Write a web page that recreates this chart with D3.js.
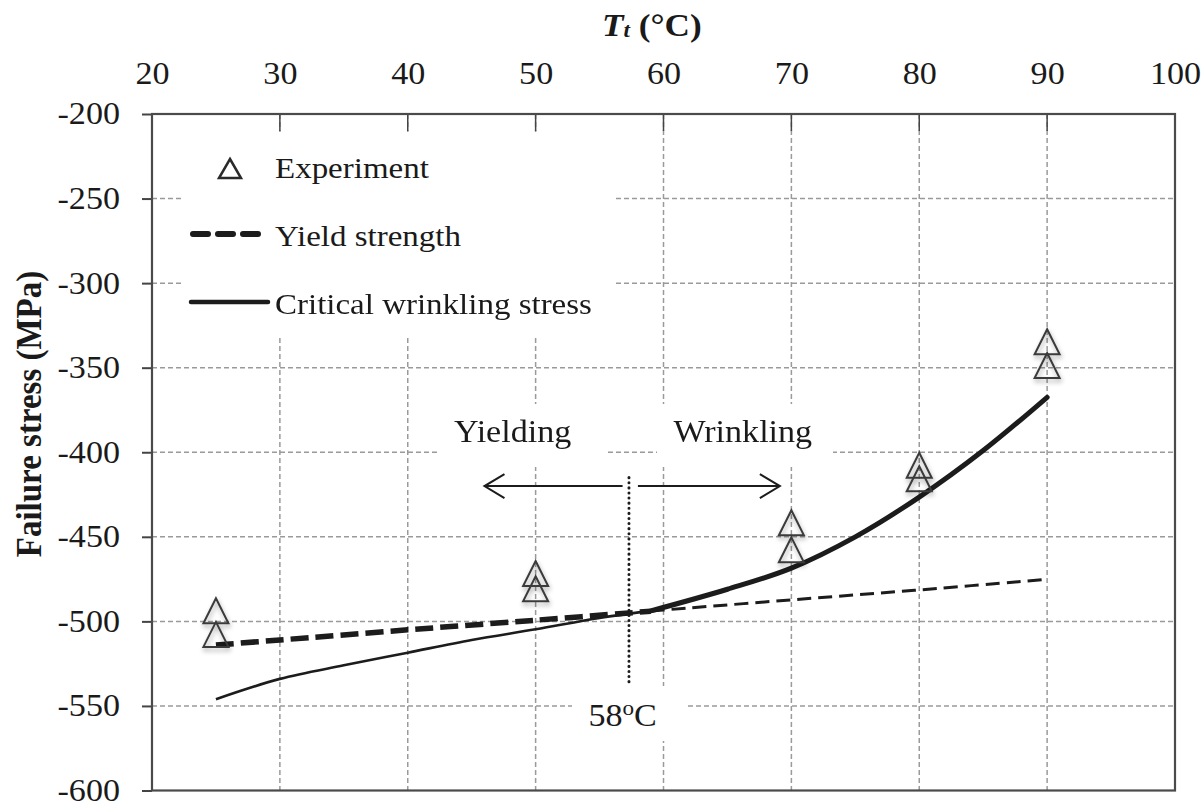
<!DOCTYPE html>
<html>
<head>
<meta charset="utf-8">
<script src="https://cdn.jsdelivr.net/npm/d3@7"></script>
<style>
  html, body { margin: 0; padding: 0; background: #fff; }
  svg { display: block; font-family: "Liberation Serif", "Times New Roman", serif; }
</style>
</head>
<body>
<svg id="chart" width="1203" height="801"></svg>
<script>
// ---------------- data ----------------
const tempTicks = [20, 30, 40, 50, 60, 70, 80, 90, 100];
const stressTicks = [-200, -250, -300, -350, -400, -450, -500, -550, -600];

const expTemp   = [25, 25, 50, 50, 70, 70, 80, 80, 90, 90];
const expStress = [-494, -508, -472, -481, -442, -458, -408, -416, -335, -349];

const yieldTemp   = [25, 30, 40, 50, 59, 60, 70, 80, 90];
const yieldStress = [-514, -511, -505, -499.3, -494, -493.3, -487.3, -481.4, -475.1];

const wrinkTemp   = [25, 30, 35, 40, 45, 50, 55, 59, 65, 70, 75, 80, 85, 90];
const wrinkStress = [-546, -534, -526, -518.5, -511, -504.7, -498, -493.8, -481, -468.5, -450, -426.5, -399, -367.5];

const transitionTemp = 59;        // where governing mode switches (line weight change)
const markTemp = 57.3;            // dotted 58°C marker position
const legendLabels = ["Experiment", "Yield strength", "Critical wrinkling stress"];

// ---------------- setup ----------------
const SX = 1.1; // horizontal stretch of the reference typography
const svg = d3.select("#chart");
const x = d3.scaleLinear().domain([20, 100]).range([152, 1175]);
const y = d3.scaleLinear().domain([-200, -600]).range([114, 790.5]);
const ink = "#1c1c1c";

function stretch(sel) {
  sel.each(function () {
    const t = d3.select(this);
    const tx = +t.attr("x") || 0, ty = +t.attr("y") || 0;
    const extra = t.attr("data-rot") ? ` rotate(${t.attr("data-rot")})` : "";
    t.attr("x", 0).attr("y", 0).attr("transform", `translate(${tx},${ty}) scale(${SX},1)${extra}`);
  });
}

const defs = svg.append("defs");
const f = defs.append("filter").attr("id", "shadow").attr("x", "-50%").attr("y", "-50%").attr("width", "200%").attr("height", "200%");
f.append("feGaussianBlur").attr("in", "SourceAlpha").attr("stdDeviation", 2.5).attr("result", "b");
f.append("feOffset").attr("in", "b").attr("dx", 1).attr("dy", 3).attr("result", "o");
f.append("feComponentTransfer").attr("in", "o").attr("result", "s")
  .append("feFuncA").attr("type", "linear").attr("slope", 0.35);
const fm = f.append("feMerge");
fm.append("feMergeNode").attr("in", "s");
fm.append("feMergeNode").attr("in", "SourceGraphic");

// ---------------- grid ----------------
const grid = svg.append("g").attr("stroke", "#9a9a9a").attr("stroke-width", 1.5).attr("stroke-dasharray", "5,3");
grid.selectAll(".vg").data(tempTicks.slice(1, -1)).join("line")
  .attr("x1", d => x(d)).attr("x2", d => x(d)).attr("y1", y(-200)).attr("y2", y(-600));
grid.selectAll(".hg").data(stressTicks.slice(1, -1)).join("line")
  .attr("x1", x(20)).attr("x2", x(100)).attr("y1", d => y(d)).attr("y2", d => y(d));

// white boxes masking the grid (legend + annotation labels)
const masks = svg.append("g").attr("fill", "#fff");
masks.append("rect").attr("x", 182).attr("y", 132).attr("width", 433).attr("height", 206);
masks.append("rect").attr("x", 437).attr("y", 404).attr("width", 171).attr("height", 63);
masks.append("rect").attr("x", 657).attr("y", 404).attr("width", 176).attr("height", 63);
masks.append("rect").attr("x", 572).attr("y", 686).attr("width", 115).attr("height", 55);

// inner tick marks on top axis (visible where grid is masked)
svg.append("g").attr("stroke", "#444").attr("stroke-width", 1.5)
  .selectAll("line").data(tempTicks.slice(1, -1)).join("line")
  .attr("x1", d => x(d)).attr("x2", d => x(d)).attr("y1", y(-200)).attr("y2", y(-200) + 17);

// ---------------- axes ----------------
const fmt = d => String(d);
const xAxis = svg.append("g").attr("transform", `translate(0,${y(-200)})`)
  .call(d3.axisTop(x).tickValues(tempTicks).tickFormat(fmt).tickSizeInner(0).tickSizeOuter(0).tickPadding(30));
xAxis.select(".domain").remove();
xAxis.selectAll("text").attr("font-size", 31).attr("font-family", "Liberation Serif").attr("fill", "#1a1a1a");
stretch(xAxis.selectAll("text"));

const yAxis = svg.append("g").attr("transform", `translate(${x(20)},0)`)
  .call(d3.axisLeft(y).tickValues(stressTicks).tickFormat(fmt).tickSizeInner(10).tickSizeOuter(0).tickPadding(22));
yAxis.select(".domain").remove();
yAxis.selectAll(".tick line").attr("stroke", "#444").attr("stroke-width", 2);
yAxis.selectAll("text").attr("font-size", 31).attr("font-family", "Liberation Serif").attr("fill", "#1a1a1a");
stretch(yAxis.selectAll("text"));

// frame
svg.append("rect").attr("x", x(20)).attr("y", y(-200))
  .attr("width", x(100) - x(20)).attr("height", y(-600) - y(-200))
  .attr("fill", "none").attr("stroke", "#4a4a4a").attr("stroke-width", 2.2);

// axis titles
const xt = svg.append("text").attr("x", 602).attr("y", 36).attr("font-size", 32).attr("font-weight", "bold").attr("fill", "#1a1a1a");
xt.append("tspan").attr("font-style", "italic").text("T");
xt.append("tspan").attr("font-style", "italic").attr("font-size", 21).attr("dy", 1).text("t");
xt.append("tspan").attr("dy", -1).text(" (°C)");
stretch(xt);

const yt = svg.append("text").attr("x", 41).attr("y", 414).attr("data-rot", -90)
  .attr("text-anchor", "middle").attr("font-size", 33).attr("font-weight", "bold").attr("fill", "#1a1a1a")
  .text("Failure stress (MPa)");
stretch(yt);

// ---------------- series ----------------
const yieldData = yieldTemp.map((t, i) => ({ t, v: yieldStress[i] }));
const wrinkData = wrinkTemp.map((t, i) => ({ t, v: wrinkStress[i] }));
const line = d3.line().x(d => x(d.t)).y(d => y(d.v)).curve(d3.curveCatmullRom.alpha(0.5));

// thin parts first
svg.append("path").datum(wrinkData.filter(d => d.t <= transitionTemp))
  .attr("d", line).attr("fill", "none").attr("stroke", ink).attr("stroke-width", 2.6);
svg.append("path").datum(yieldData.filter(d => d.t >= transitionTemp))
  .attr("d", line).attr("fill", "none").attr("stroke", ink).attr("stroke-width", 3).attr("stroke-dasharray", "14,7");
// thick governing parts
svg.append("path").datum(yieldData.filter(d => d.t <= transitionTemp))
  .attr("d", line).attr("fill", "none").attr("stroke", ink).attr("stroke-width", 5.5).attr("stroke-dasharray", "18,7");
svg.append("path").datum(wrinkData.filter(d => d.t >= transitionTemp))
  .attr("d", line).attr("fill", "none").attr("stroke", ink).attr("stroke-width", 5)
  .attr("stroke-linecap", "round");

// experiment markers
const tri = "M0,-13L12.5,12L-12.5,12Z";
svg.append("g").attr("filter", "url(#shadow)")
  .selectAll("path").data(expTemp.map((t, i) => ({ t, v: expStress[i] }))).join("path")
  .attr("d", tri).attr("transform", d => `translate(${x(d.t)},${y(d.v)})`)
  .attr("fill", "none").attr("stroke", "#3a3a3a").attr("stroke-width", 2);

// ---------------- annotations ----------------
const arrowY = y(-420);
const ann = svg.append("g").attr("stroke", ink).attr("stroke-width", 2).attr("fill", "none");
ann.append("line").attr("x1", x(56.8)).attr("x2", x(46.0)).attr("y1", arrowY).attr("y2", arrowY);
ann.append("path").attr("d", `M${x(46.0) + 20},${arrowY - 12}L${x(46.0)},${arrowY}L${x(46.0) + 20},${arrowY + 12}`);
ann.append("line").attr("x1", x(58.0)).attr("x2", x(69.1)).attr("y1", arrowY).attr("y2", arrowY);
ann.append("path").attr("d", `M${x(69.1) - 20},${arrowY - 12}L${x(69.1)},${arrowY}L${x(69.1) - 20},${arrowY + 12}`);
svg.append("line").attr("x1", x(markTemp)).attr("x2", x(markTemp)).attr("y1", y(-415)).attr("y2", y(-537))
  .attr("stroke", ink).attr("stroke-width", 3).attr("stroke-dasharray", "0.1,5").attr("stroke-linecap", "round");

const annText = svg.append("g").attr("font-size", 31).attr("fill", "#1a1a1a").attr("text-anchor", "middle");
annText.append("text").attr("x", x(48.2)).attr("y", y(-394)).text("Yielding");
annText.append("text").attr("x", x(66.2)).attr("y", y(-394)).text("Wrinkling");
const t58 = annText.append("text").attr("x", x(56.8)).attr("y", y(-562));
t58.append("tspan").text("58");
t58.append("tspan").attr("font-size", 21).attr("dy", -11).text("o");
t58.append("tspan").attr("dy", 11).text("C");
stretch(annText.selectAll("text"));

// ---------------- legend ----------------
const lg = svg.append("g");
lg.append("path").attr("d", "M0,-10L11,9L-11,9Z").attr("transform", "translate(230,169)")
  .attr("fill", "none").attr("stroke", "#2a2a2a").attr("stroke-width", 2.5);
lg.append("line").attr("x1", 193).attr("x2", 258).attr("y1", 234).attr("y2", 234)
  .attr("stroke", ink).attr("stroke-width", 6).attr("stroke-dasharray", "15,10").attr("stroke-linecap", "round");
lg.append("line").attr("x1", 191).attr("x2", 268).attr("y1", 302).attr("y2", 302)
  .attr("stroke", ink).attr("stroke-width", 4.5).attr("stroke-linecap", "round");
const lgText = lg.selectAll("text").data(legendLabels).join("text")
  .attr("x", 275).attr("y", (d, i) => [178, 246, 314][i])
  .attr("font-size", 30).attr("fill", "#1a1a1a").text(d => d);
stretch(lgText);
</script>
</body>
</html>
